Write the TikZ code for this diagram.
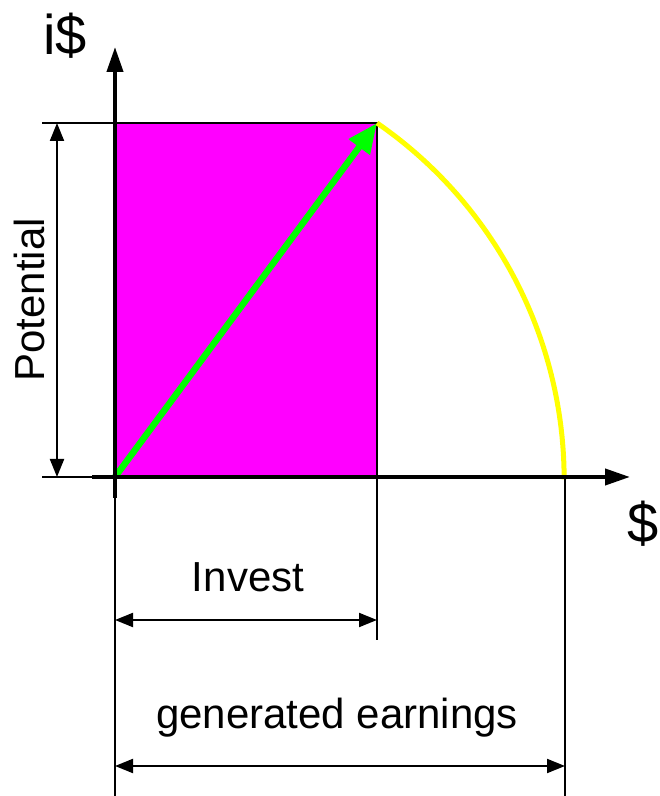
\documentclass[tikz,border=0pt]{standalone}
\usepackage{fontspec}
\setmainfont{Liberation Sans}
\usetikzlibrary{arrows.meta}
\definecolor{investfill}{RGB}{255,0,255}
\definecolor{growarrow}{RGB}{0,255,0}
\definecolor{earncurve}{RGB}{255,255,0}

\begin{document}
\begin{tikzpicture}[x=1pt,y=1pt,
  axisline/.style={line width=4pt,-{Triangle[length=25pt,width=16pt]}},
  helpline/.style={line width=2pt},
  dimline/.style={line width=2pt,{Triangle[length=18pt,width=14pt]}-{Triangle[length=18pt,width=14pt]}},
  biglabel/.style={font=\fontsize{56}{60}\selectfont,inner sep=0pt,anchor=base west},
  dimlabel/.style={font=\fontsize{42}{48}\selectfont,inner sep=0pt,anchor=base}]
\useasboundingbox (0,0) rectangle (660,796);

\coordinate (O) at (115,319);
\coordinate (topleft) at (115,673);
\coordinate (corner) at (377,673);
\coordinate (investbase) at (377,319);
\coordinate (arcend) at (565,319);
\coordinate (xstart) at (92,319);
\coordinate (xtip) at (630,319);
\coordinate (ystart) at (115,298);
\coordinate (ytip) at (115,749);
\coordinate (lefttop) at (42,673);
\coordinate (leftbot) at (42,319);
\coordinate (footO) at (115,0);
\coordinate (footinvest) at (377,156);
\coordinate (footearn) at (565,0);

% invested area
\fill[investfill] (O) rectangle (corner);
\draw[helpline] (O) rectangle (corner);
\draw[growarrow,line width=6.5pt,-{Triangle[length=30pt,width=25pt]}] (O) -- (corner);
\draw[earncurve,line width=5pt] (corner) arc[start angle=55.4,end angle=0,radius=433];

% axes
\draw[axisline] (xstart) -- (xtip);
\draw[axisline] (ystart) -- (ytip);
\node[biglabel] (ylabel) at (43,741) {i\$};
\node[biglabel] (xlabel) at (627,253) {\$};

% extension lines
\draw[helpline] (lefttop) -- (topleft);
\draw[helpline] (leftbot) -- (xstart);
\draw[helpline] (ystart) -- (footO);
\draw[helpline] (investbase) -- (footinvest);
\draw[helpline] (arcend) -- (footearn);

% dimensions
\coordinate (pottop) at (57,673);
\coordinate (potbot) at (57,319);
\coordinate (invleft) at (115,176);
\coordinate (invright) at (377,176);
\coordinate (earnleft) at (115,30);
\coordinate (earnright) at (565,30);
\draw[dimline] (pottop) -- (potbot);
\draw[dimline] (invleft) -- (invright);
\draw[dimline] (earnleft) -- (earnright);
\node[dimlabel,rotate=90] (potlabel) at (45,496) {Potential};
\node[dimlabel] (invlabel) at (248,204) {Invest};
\node[dimlabel] (earnlabel) at (337,67) {generated earnings};
\end{tikzpicture}
\end{document}
